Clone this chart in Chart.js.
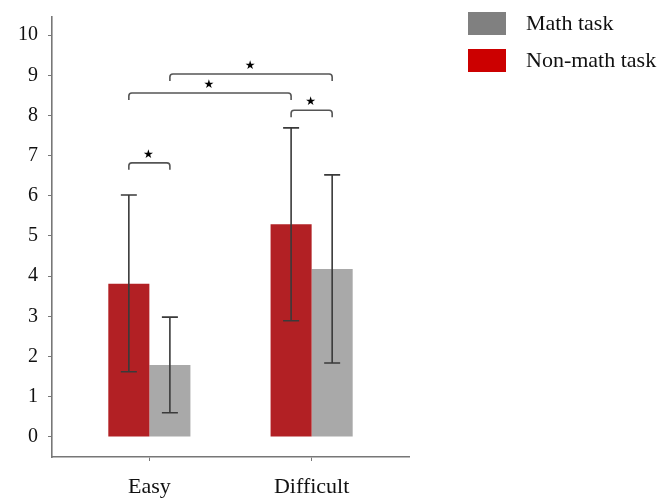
<!DOCTYPE html>
<html>
<head>
    <meta charset="utf-8">
    <script src="https://cdn.jsdelivr.net/npm/chart.js@4.4.1/dist/chart.umd.min.js"></script>
    <title>Math vs non-math task</title>
    <style>
        body { margin: 0; background: #fff; }
        #wrap { width: 667px; height: 501px; }
    </style>
</head>
<body>
<div id="wrap">
    <canvas id="myChart" width="667" height="501"></canvas>
</div>

<script>
    // categories and series
    var categories = ['Easy', 'Difficult'];
    var yTicks = [0, 1, 2, 3, 4, 5, 6, 7, 8, 9, 10];

    var nonMath = [3.81, 5.29];
    var nonMathLow = [1.62, 2.89];
    var nonMathHigh = [6.02, 7.69];

    var math = [1.79, 4.18];
    var mathLow = [0.60, 1.84];
    var mathHigh = [2.98, 6.52];

    // significance brackets : [dataset, category] -> [dataset, category], at height level
    // dataset 0 = Non-math, 1 = Math
    var sigFrom = [[0, 0], [1, 0], [0, 0], [0, 1]];
    var sigTo = [[1, 0], [1, 1], [0, 1], [1, 1]];
    var sigLevel = [6.82, 9.03, 8.56, 8.13];

    var errLow = [nonMathLow, mathLow];
    var errHigh = [nonMathHigh, mathHigh];

    function toPoints(vals) {
        var pts = [];
        for (var i = 0; i < vals.length; i++) {
            pts.push({ x: i + 1, y: vals[i] });
        }
        return pts;
    }

    var serif = "'Liberation Serif', 'Times New Roman', serif";

    // error bars drawn from the y scale
    var errorBars = {
        id: 'errorBars',
        afterDatasetsDraw: function(chart) {
            var ctx = chart.ctx;
            var ys = chart.scales.y;
            ctx.save();
            ctx.strokeStyle = '#3a3a3a';
            ctx.lineWidth = 1.6;
            for (var d = 0; d < chart.data.datasets.length; d++) {
                var meta = chart.getDatasetMeta(d);
                for (var i = 0; i < meta.data.length; i++) {
                    var x = meta.data[i].x;
                    var top = ys.getPixelForValue(errHigh[d][i]);
                    var bot = ys.getPixelForValue(errLow[d][i]);
                    ctx.beginPath();
                    ctx.moveTo(x, top); ctx.lineTo(x, bot);
                    ctx.moveTo(x - 8, top); ctx.lineTo(x + 8, top);
                    ctx.moveTo(x - 8, bot); ctx.lineTo(x + 8, bot);
                    ctx.stroke();
                }
            }
            ctx.restore();
        }
    };

    // significance brackets with stars
    var brackets = {
        id: 'brackets',
        afterDatasetsDraw: function(chart) {
            var ctx = chart.ctx;
            var ys = chart.scales.y;
            ctx.save();
            ctx.strokeStyle = '#555';
            ctx.lineWidth = 1.6;
            ctx.fillStyle = '#000';
            ctx.font = "12px 'DejaVu Sans'";
            ctx.textAlign = 'center';
            ctx.textBaseline = 'middle';
            for (var k = 0; k < sigLevel.length; k++) {
                var x1 = chart.getDatasetMeta(sigFrom[k][0]).data[sigFrom[k][1]].x;
                var x2 = chart.getDatasetMeta(sigTo[k][0]).data[sigTo[k][1]].x;
                var y = ys.getPixelForValue(sigLevel[k]);
                var r = 3;
                ctx.beginPath();
                ctx.moveTo(x1, y + 7);
                ctx.lineTo(x1, y + r);
                ctx.quadraticCurveTo(x1, y, x1 + r, y);
                ctx.lineTo(x2 - r, y);
                ctx.quadraticCurveTo(x2, y, x2, y + r);
                ctx.lineTo(x2, y + 7);
                ctx.stroke();
                ctx.fillText('\u2605', (x1 + x2) / 2 - 1, y - 8);
            }
            ctx.restore();
        }
    };

    // legend at the top right
    var sideLegend = {
        id: 'sideLegend',
        afterDraw: function(chart) {
            var ctx = chart.ctx;
            var items = [
                { text: 'Math task', color: '#808080' },
                { text: 'Non-math task', color: '#cc0000' }
            ];
            ctx.save();
            ctx.font = '22px ' + serif;
            ctx.textBaseline = 'middle';
            ctx.textAlign = 'left';
            for (var i = 0; i < items.length; i++) {
                var y = 12 + i * 37;
                ctx.fillStyle = items[i].color;
                ctx.fillRect(468, y, 38, 23);
                ctx.fillStyle = '#111';
                ctx.fillText(items[i].text, 526, y + 12);
            }
            ctx.restore();
        }
    };

    const data = {
        datasets: [{
            label: 'Non-math task',
            data: toPoints(nonMath),
            backgroundColor: '#b22024',
            borderWidth: 0
        }, {
            label: 'Math task',
            data: toPoints(math),
            backgroundColor: '#a9a9a9',
            borderWidth: 0
        }]
    };

    const config = {
        type: 'bar',
        data: data,
        options: {
            responsive: false,
            animation: false,
            categoryPercentage: 0.506,
            barPercentage: 1.0,
            layout: {
                padding: { left: 18, right: 258, top: 17, bottom: 0 }
            },
            plugins: {
                legend: { display: false },
                tooltip: { enabled: false }
            },
            scales: {
                x: {
                    type: 'linear',
                    offset: false,
                    min: 0.4,
                    max: 2.6,
                    afterBuildTicks: function(axis) {
                        axis.ticks = categories.map(function(c, i) { return { value: i + 1 }; });
                    },
                    afterFit: function(axis) {
                        axis.height = 44;
                        axis.paddingLeft = 0;
                        axis.paddingRight = 0;
                    },
                    ticks: {
                        autoSkip: false,
                        maxRotation: 0,
                        padding: 15,
                        color: '#111',
                        font: { family: serif, size: 22, lineHeight: 1 },
                        callback: function(v) { return categories[v - 1]; }
                    },
                    grid: {
                        display: true,
                        offset: false,
                        drawOnChartArea: false,
                        drawTicks: true,
                        tickLength: 4,
                        color: '#777'
                    },
                    border: { display: true, color: '#777', width: 1.6 }
                },
                y: {
                    min: -0.5,
                    max: 10.45,
                    afterBuildTicks: function(axis) {
                        axis.ticks = yTicks.map(function(v) { return { value: v }; });
                    },
                    afterFit: function(axis) {
                        axis.width = 34;
                        axis.paddingTop = 0;
                        axis.paddingBottom = 0;
                    },
                    ticks: {
                        padding: 10,
                        color: '#111',
                        font: { family: serif, size: 20 }
                    },
                    grid: {
                        display: true,
                        drawOnChartArea: false,
                        drawTicks: true,
                        tickLength: 4,
                        color: '#777'
                    },
                    border: { display: true, color: '#777', width: 1.6 }
                }
            }
        },
        plugins: [errorBars, brackets, sideLegend]
    };

    var myChart = new Chart(
        document.getElementById('myChart'),
        config
    );
</script>
</body>
</html>
